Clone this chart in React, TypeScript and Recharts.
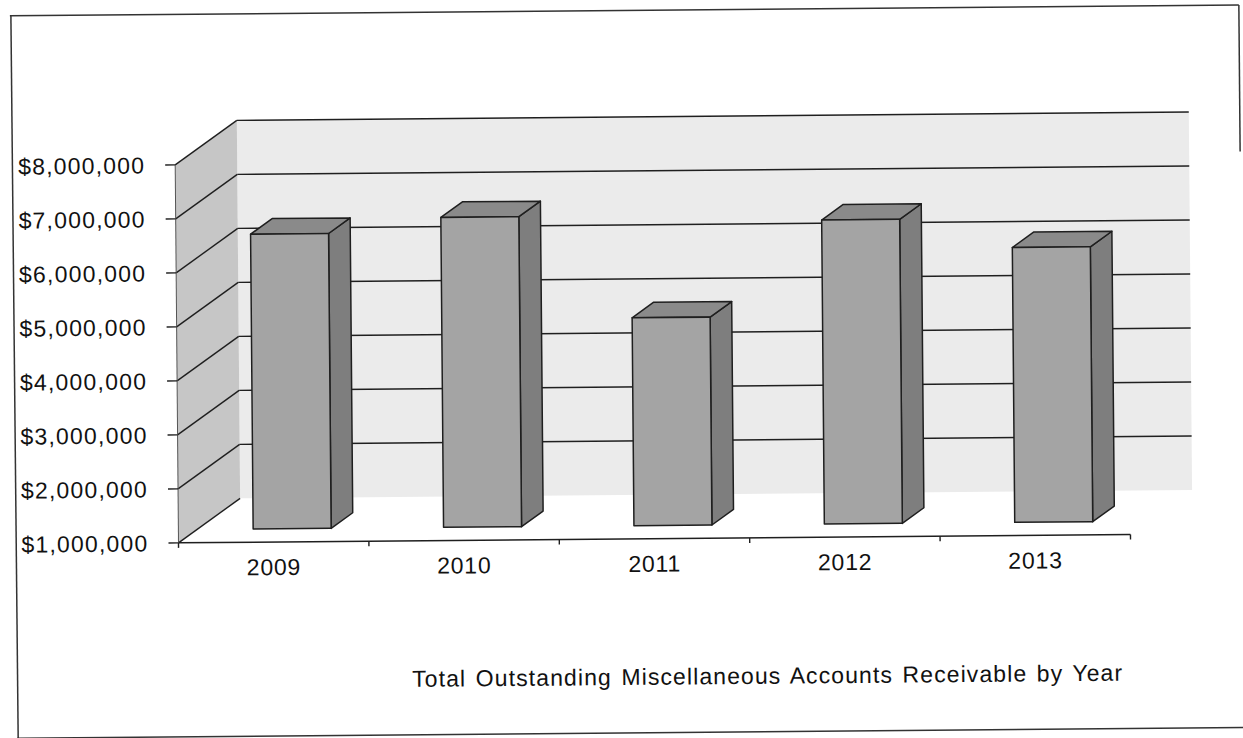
import { BarChart, Bar, XAxis, YAxis, CartesianGrid, ReferenceArea } from "recharts";

const years = ["2009", "2010", "2011", "2012", "2013"];
const receivables = [6460000, 6740000, 4850000, 6630000, 6090000];
const yTicks = [1000000, 2000000, 3000000, 4000000, 5000000, 6000000, 7000000, 8000000];

const data = years.map((year, i) => ({ year, total: receivables[i] }));

const W = 1243;
const H = 738;
const PLOT_LEFT = 177;
const PLOT_RIGHT = 1129;
const PLOT_TOP = 161;
const PLOT_BOTTOM = 539;
// depth of the 3d box (back wall offset from the front plane)
const DEPTH_X = 62;
const DEPTH_Y = -44;
// bars sit a bit behind the front plane
const BAR_SHIFT = 0.3;
const BAR_DEPTH = 0.35;
const FONT = '"Liberation Sans", Arial, sans-serif';
const INK = "#1f1f1f";

function formatMoney(v: number) {
  return "$" + v.toLocaleString("en-US");
}

function Walls(props: any) {
  const { x, y, width, height } = props;
  const side = [
    [x, y],
    [x + DEPTH_X, y + DEPTH_Y],
    [x + DEPTH_X, y + height + DEPTH_Y],
    [x, y + height],
  ]
    .map((p) => p.join(","))
    .join(" ");
  return (
    <g>
      <rect x={x + DEPTH_X} y={y + DEPTH_Y} width={width} height={height} fill="#ebebeb" />
      <polygon points={side} fill="#c6c6c6" />
    </g>
  );
}

function gridLine(props: any) {
  const { x1, y1, x2, index } = props;
  const isFloor = Math.abs(y1 - PLOT_BOTTOM) < 1;
  return (
    <g key={`grid-${index}`}>
      <line x1={x1} y1={y1} x2={x1 + DEPTH_X} y2={y1 + DEPTH_Y} stroke={INK} strokeWidth={1.4} />
      {!isFloor && (
        <line
          x1={x1 + DEPTH_X}
          y1={y1 + DEPTH_Y}
          x2={x2 + DEPTH_X}
          y2={y1 + DEPTH_Y}
          stroke={INK}
          strokeWidth={1.4}
        />
      )}
    </g>
  );
}

function Bar3D(props: any) {
  const { x, y, width, height } = props;
  const fx = x + DEPTH_X * BAR_SHIFT;
  const fy = y + DEPTH_Y * BAR_SHIFT;
  const dx = DEPTH_X * BAR_DEPTH;
  const dy = DEPTH_Y * BAR_DEPTH;
  const top = [
    [fx, fy],
    [fx + dx, fy + dy],
    [fx + width + dx, fy + dy],
    [fx + width, fy],
  ]
    .map((p) => p.join(","))
    .join(" ");
  const side = [
    [fx + width, fy],
    [fx + width + dx, fy + dy],
    [fx + width + dx, fy + height + dy],
    [fx + width, fy + height],
  ]
    .map((p) => p.join(","))
    .join(" ");
  return (
    <g stroke={INK} strokeWidth={1.5} strokeLinejoin="round">
      <polygon points={side} fill="#7e7e7e" />
      <polygon points={top} fill="#8a8a8a" />
      <rect x={fx} y={fy} width={width} height={height} fill="#a4a4a4" />
    </g>
  );
}

function YTick(props: any) {
  const { x, y, payload } = props;
  return (
    <text
      x={x}
      y={y}
      dy="0.36em"
      textAnchor="end"
      fill="#111"
      fontSize={23}
      fontFamily={FONT}
      letterSpacing={1.2}
    >
      {formatMoney(payload.value)}
    </text>
  );
}

function XTick(props: any) {
  const { x, payload, index } = props;
  const half = (PLOT_RIGHT - PLOT_LEFT) / years.length / 2;
  return (
    <g>
      <line x1={x - half} y1={PLOT_BOTTOM} x2={x - half} y2={PLOT_BOTTOM + 5} stroke={INK} strokeWidth={1.4} />
      {index === years.length - 1 && (
        <line x1={x + half} y1={PLOT_BOTTOM} x2={x + half} y2={PLOT_BOTTOM + 5} stroke={INK} strokeWidth={1.4} />
      )}
      <text
        x={x}
        y={PLOT_BOTTOM + 33}
        textAnchor="middle"
        fill="#111"
        fontSize={23}
        fontFamily={FONT}
        letterSpacing={0.8}
      >
        {payload.value}
      </text>
    </g>
  );
}

export default function App() {
  return (
    <div
      style={{
        position: "absolute",
        left: 0,
        top: 0,
        width: W,
        height: H,
        background: "#fff",
        overflow: "hidden",
      }}
    >
      <div style={{ position: "relative", width: W, height: H, transform: "rotate(-0.5deg)", transformOrigin: "50% 50%" }}>
        <BarChart
          width={W}
          height={H}
          data={data}
          margin={{ top: PLOT_TOP, right: W - PLOT_RIGHT, bottom: H - PLOT_BOTTOM - 40, left: 19 }}
          barCategoryGap="29.5%"
        >
          <ReferenceArea y1={1000000} y2={8000000} shape={Walls} ifOverflow="visible" zIndex={-150} />
          <CartesianGrid vertical={false} horizontal={gridLine} />
          <XAxis
            dataKey="year"
            height={40}
            axisLine={{ stroke: INK, strokeWidth: 1.5 }}
            tickLine={false}
            tick={XTick}
            interval={0}
          />
          <YAxis
            width={PLOT_LEFT - 19}
            domain={[1000000, 8000000]}
            ticks={yTicks}
            allowDataOverflow
            axisLine={{ stroke: "#555", strokeWidth: 1 }}
            tickLine={{ stroke: INK, strokeWidth: 1.4 }}
            tickSize={10}
            tickMargin={20}
            tick={YTick}
            interval={0}
          />
          <Bar dataKey="total" shape={Bar3D} isAnimationActive={false} />
        </BarChart>
        <svg width={W} height={H} style={{ position: "absolute", left: 0, top: 0, pointerEvents: "none", overflow: "visible" }}>
          <text
            x={765}
            y={685}
            textAnchor="middle"
            fill="#111"
            fontSize={23}
            fontFamily={FONT}
            letterSpacing={1.1}
            wordSpacing={2}
          >
            Total Outstanding Miscellaneous Accounts Receivable by Year
          </text>
          <line x1={13} y1={10.5} x2={1242} y2={10.5} stroke="#333" strokeWidth={1.5} />
          <line x1={14} y1={10.5} x2={15} y2={745} stroke="#333" strokeWidth={1.5} />
          <line x1={1242} y1={10.5} x2={1242} y2={157} stroke="#333" strokeWidth={1.5} />
          <line x1={14} y1={733} x2={1250} y2={733} stroke="#333" strokeWidth={1.5} />
        </svg>
      </div>
    </div>
  );
}
